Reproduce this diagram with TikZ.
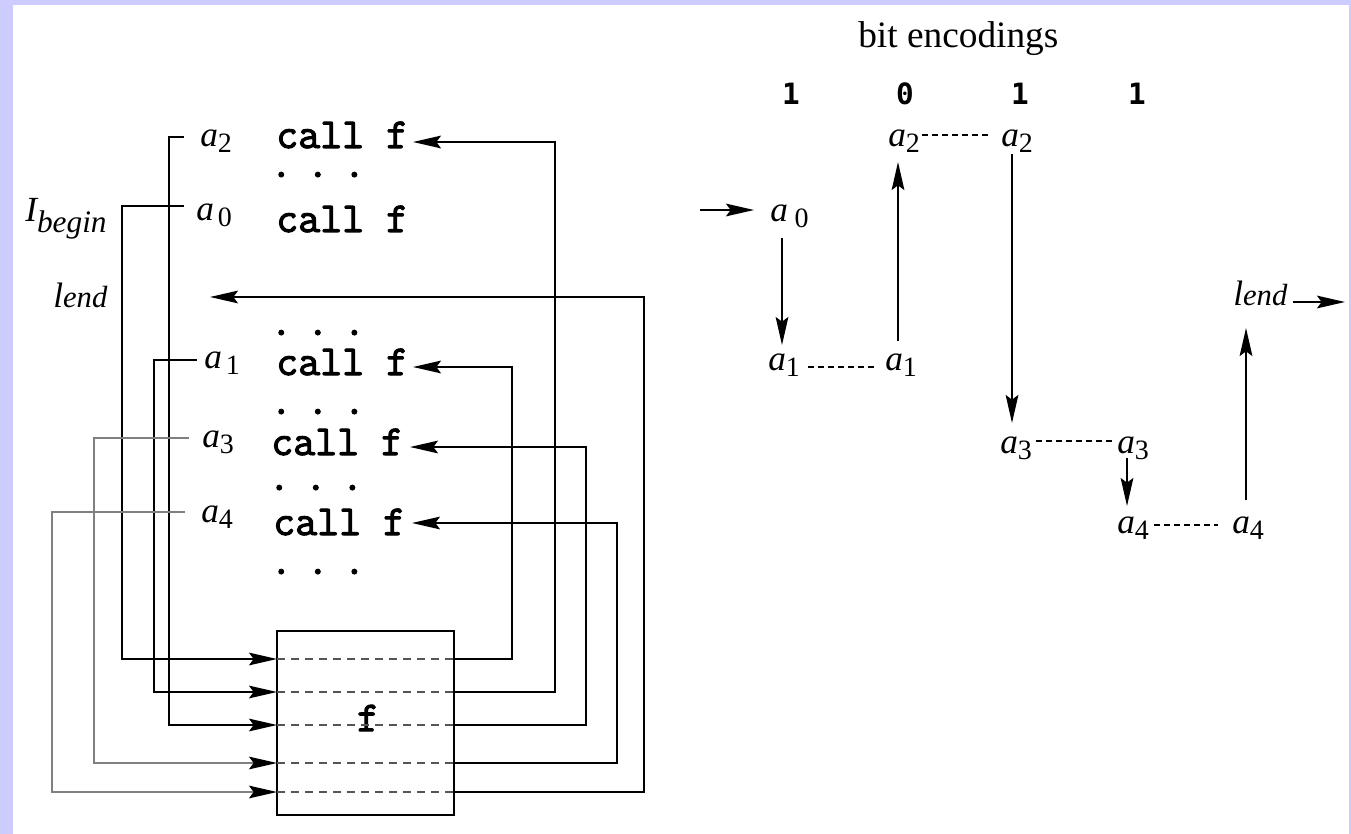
\documentclass[tikz,border=0pt]{standalone}
\usepackage{fontspec}
\setmainfont{Liberation Serif}
\newfontfamily\bitfont{DejaVu Sans Mono}
\newfontfamily\codefont{Latin Modern Mono}[FakeBold=2.5]
\usetikzlibrary{arrows.meta,calc}
\definecolor{lav}{RGB}{204,204,255}
\definecolor{lgray}{RGB}{128,128,128}
\definecolor{dgray}{RGB}{85,85,85}
\newcommand{\albl}[2]{{\itshape a}\kern#2\raisebox{-4.5pt}{\fontsize{21}{21}\selectfont\upshape #1}}
\newcommand{\dotrow}{.\hspace{10.95pt}.\hspace{10.95pt}.}
\begin{document}
\begin{tikzpicture}[x=0.75pt,y=-0.75pt,
  lbl/.style={font=\fontsize{26.5}{26.5}\selectfont, inner sep=0, anchor=base west},
  code/.style={font=\codefont\fontsize{32}{32}\selectfont, inner sep=0, anchor=base west},
  bit/.style={font=\bitfont\bfseries\fontsize{22}{22}\selectfont, inner sep=0, anchor=base},
  arr/.style={-{Stealth[length=21pt,width=9.5pt,inset=3.5pt,color=black]}, line width=1.5pt},
  garr/.style={arr, draw=lgray, line width=1.2pt},
  rowdash/.style={dgray, line width=1.1pt, dash pattern=on 6pt off 4.5pt},
  lnkdash/.style={black, line width=1pt, dash pattern=on 4.5pt off 3pt}]
\fill[lav] (0,0) rectangle (1351,834);
\fill[white] (13,5) rectangle (1349,834);
\useasboundingbox (0,0) rectangle (1351,834);

% ---------- left: code listing ----------
\node[lbl] (la2) at (200,147) {\albl{2}{0pt}};
\node[code] (c2) at (276,148) {call f};
\node[code] (d1) at (270,177) {\dotrow};
\node[lbl] (la0) at (196,221) {\albl{0}{3pt}};
\node[code] (c0) at (276,232) {call f};
\node[lbl] (lbeg) at (25,222) {{\itshape I}\raisebox{-8pt}{\fontsize{23.5}{23.5}\selectfont\itshape begin}};
\node[lbl] (lendL) at (53,307) {{\itshape l}{\fontsize{23}{23}\selectfont\itshape end}};
\node[code] (d2) at (270,335) {\dotrow};
\node[lbl] (la1) at (204,368) {\albl{1}{3pt}};
\node[code] (c1) at (276,375) {call f};
\node[code] (d3) at (270,414) {\dotrow};
\node[lbl] (la3) at (202,447) {\albl{3}{0pt}};
\node[code] (c3) at (271,455) {call f};
\node[code] (d4) at (268,490) {\dotrow};
\node[lbl] (la4) at (201,522) {\albl{4}{0pt}};
\node[code] (c4) at (273,535) {call f};
\node[code] (d5) at (270,574) {\dotrow};

% function box
\node[draw, line width=1.5pt, minimum width=132.75pt, minimum height=138pt, inner sep=0] (F) at (365.5,723) {};
\node[font=\codefont\fontsize{32}{32}\selectfont, inner sep=0] (fname) at (368,718) {f};
\foreach \i/\y in {1/659,2/692,3/725,4/763,5/792}{
  \coordinate (L\i) at (277,\y);
  \coordinate (R\i) at (454,\y);
  \draw[rowdash] (L\i) -- (R\i);
}
% sources on the left
\coordinate (s0) at (184,206);
\coordinate (s1) at (197,360);
\coordinate (s2) at (184,137);
\coordinate (s3) at (189,438);
\coordinate (s4) at (185,512);
\draw[arr] (s0) -| (122,659) -- (L1);
\draw[arr] (s1) -| (154,692) -- (L2);
\draw[arr] (s2) -| (169,725) -- (L3);
\draw[garr] (s3) -| (94,763) -- (L4);
\draw[garr] (s4) -| (52,792) -- (L5);
% returns on the right
\coordinate (t1) at (413,367);
\coordinate (t2) at (413,142);
\coordinate (t3) at (410,447);
\coordinate (t4) at (412,523);
\coordinate (tend) at (210,297);
\draw[arr] (R1) -| (512,367) -- (t1);
\draw[arr] (R2) -| (555,142) -- (t2);
\draw[arr] (R3) -| (586,447) -- (t3);
\draw[arr] (R4) -| (617,523) -- (t4);
\draw[arr] (R5) -| (644,297) -- (tend);

% ---------- right: bit encodings ----------
\node[inner sep=0, anchor=base west, font=\fontsize{28}{28}\selectfont] (title) at (858,48) {bit encodings};
\node[bit] (b1) at (791,105) {1};
\node[bit] (b2) at (905,105) {0};
\node[bit] (b3) at (1020,105) {1};
\node[bit] (b4) at (1137,105) {1};

\node[lbl] (A0) at (770,222) {\albl{0}{5pt}};
\node[lbl] (A1a) at (768,370) {\albl{1}{0pt}};
\node[lbl] (A1b) at (885,370) {\albl{1}{0pt}};
\node[lbl] (A2a) at (888,147) {\albl{2}{0pt}};
\node[lbl] (A2b) at (1001,147) {\albl{2}{0pt}};
\node[lbl] (A3a) at (1000,453) {\albl{3}{0pt}};
\node[lbl] (A3b) at (1117,453) {\albl{3}{0pt}};
\node[lbl] (A4a) at (1117,533) {\albl{4}{0pt}};
\node[lbl] (A4b) at (1232,533) {\albl{4}{0pt}};
\node[lbl] (lendR) at (1233,305) {{\itshape l}{\fontsize{23}{23}\selectfont\itshape end}};

\coordinate (in0) at (700,210);
\coordinate (in1) at (754,210);
\draw[arr] (in0) -- (in1);
\draw[arr] (782,238) -- (782,345);
\draw[arr] (898,341) -- (898,162);
\draw[arr] (1012,154) -- (1012,423);
\draw[arr] (1127,458) -- (1127,506);
\draw[arr] (1246,500) -- (1246,328);
\coordinate (out1) at (1345,302);
\draw[arr] (1293,302) -- (out1);

\draw[lnkdash] (808,367) -- (877,367);
\draw[lnkdash] (922,135) -- (990,135);
\draw[lnkdash] (1036,441) -- (1114,441);
\draw[lnkdash] (1154,525) -- (1218,525);
\end{tikzpicture}
\end{document}
